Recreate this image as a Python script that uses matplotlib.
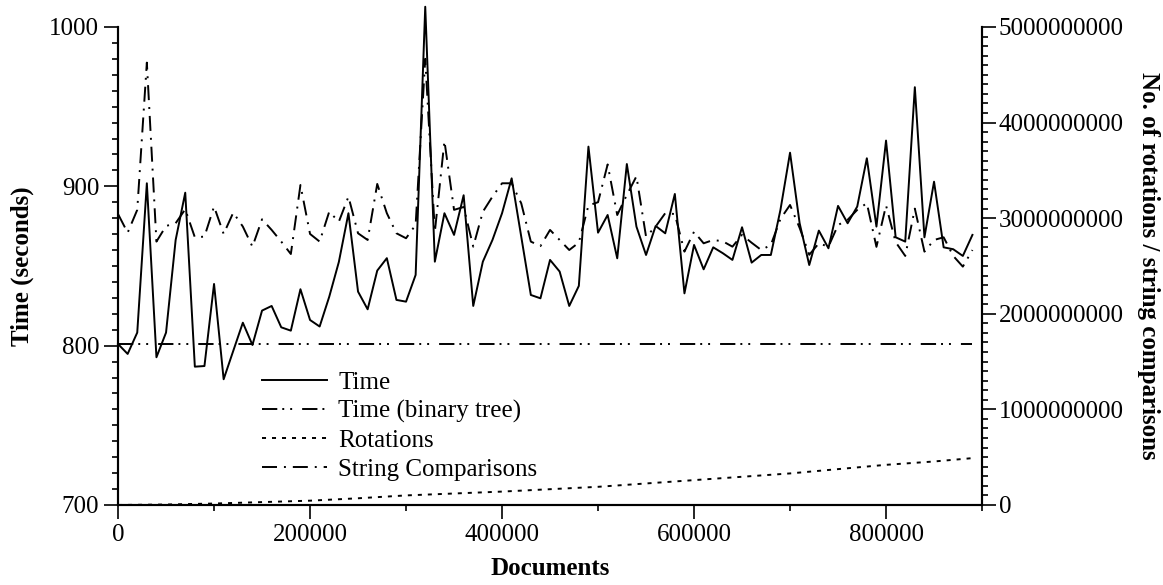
import numpy as np
import matplotlib
matplotlib.use("Agg")
import matplotlib.pyplot as plt
from matplotlib.ticker import MultipleLocator, FuncFormatter

plt.rcParams['font.family'] = ['Liberation Serif', 'DejaVu Serif']
plt.rcParams['font.size'] = 18
plt.rcParams['lines.scale_dashes'] = False

# documents processed (one sample every 10000)
docs = np.arange(0, 900000, 10000)

# time in seconds (splay tree)
time_s = [801.0, 794.8, 808.2, 901.9, 792.7, 808.2, 866.3, 896.0, 786.8, 787.2,
          838.7, 778.9, 796.7, 814.4, 800.4, 822.0, 824.9, 811.5, 809.4, 835.4,
          816.1, 812.0, 830.7, 852.5, 883.1, 833.9, 822.8, 847.1, 854.9, 828.7,
          827.6, 844.4, 1012.7, 852.7, 883.1, 869.5, 894.4, 824.9, 852.7, 866.3,
          883.1, 905.0, 868.4, 831.8, 829.7, 853.8, 846.5, 824.9, 837.5, 924.9,
          870.9, 882.0, 854.8, 914.0, 874.7, 856.9, 875.1, 870.5, 895.2, 832.8,
          863.2, 847.9, 861.7, 858.0, 853.8, 874.3, 852.1, 856.9, 856.9, 885.2,
          921.1, 876.8, 850.6, 872.2, 861.1, 887.7, 876.8, 887.3, 917.6, 874.7,
          928.7, 868.0, 865.3, 962.2, 868.0, 902.9, 861.7, 860.5, 856.3, 869.5]

# time with binary tree (flat)
binary_docs = [0, 890000]
binary_time = [801.0, 801.0]

# string comparisons, in billions
string_cmp = [3.043, 2.848, 3.087, 4.627, 2.755, 2.918, 2.947, 3.093, 2.800, 2.807,
              3.122, 2.835, 3.058, 2.912, 2.702, 2.988, 2.877, 2.755, 2.625, 3.347,
              2.835, 2.755, 3.068, 2.963, 3.225, 2.842, 2.772, 3.358, 3.052, 2.842,
              2.790, 2.930, 4.667, 2.858, 3.808, 3.087, 3.117, 2.702, 3.067, 3.225,
              3.365, 3.365, 3.155, 2.755, 2.708, 2.877, 2.772, 2.667, 2.745, 3.133,
              3.167, 3.562, 3.033, 3.243, 3.438, 2.807, 2.912, 3.052, 3.043, 2.650,
              2.858, 2.737, 2.772, 2.758, 2.702, 2.825, 2.743, 2.667, 2.720, 2.992,
              3.138, 2.898, 2.617, 2.737, 2.702, 2.928, 2.983, 3.087, 3.157, 2.700,
              3.133, 2.750, 2.605, 3.100, 2.650, 2.772, 2.800, 2.605, 2.493, 2.667]

# rotations, in billions
rot_docs = [0, 50000, 100000, 150000, 200000, 250000, 300000, 350000, 400000, 450000,
            500000, 550000, 600000, 650000, 700000, 750000, 800000, 850000, 890000]
rotations = [0.0, 0.005, 0.015, 0.03, 0.045, 0.07, 0.10, 0.12, 0.14, 0.165,
             0.19, 0.225, 0.26, 0.295, 0.33, 0.375, 0.42, 0.455, 0.49]

fig = plt.figure(figsize=(11.63, 5.85), dpi=100)
ax = fig.add_axes([0.1015, 0.1368, 0.7429, 0.8171])
ax2 = ax.twinx()

lw = 1.4
l1, = ax.plot(docs, time_s, color='black', lw=lw, label='Time', clip_on=False)
l2, = ax.plot(binary_docs, binary_time, color='black', lw=lw,
              linestyle=(0, (11, 3.6, 1.4, 4.3, 1.4, 7.2)), label='Time (binary tree)')
l3, = ax2.plot(rot_docs, np.array(rotations) * 1e9, color='black', lw=lw,
               linestyle=(0, (2.9, 4.3)), label='Rotations')
l4, = ax2.plot(docs, np.array(string_cmp) * 1e9, color='black', lw=lw,
               linestyle=(0, (10.8, 5.0, 1.4, 5.0)), label='String Comparisons',
               clip_on=False)

ax.set_xlim(0, 900000)
ax.set_ylim(700, 1000)
ax2.set_ylim(0, 5e9)

for a in (ax, ax2):
    a.spines['top'].set_visible(False)
    for s in a.spines.values():
        s.set_linewidth(1.5)
    a.tick_params(which='major', length=10, width=1.2, direction='out')
    a.tick_params(which='minor', length=4.5, width=1.2, direction='out')
ax2.tick_params(axis='y', which='major', pad=2)

ax.xaxis.set_major_locator(MultipleLocator(200000))
ax.xaxis.set_minor_locator(MultipleLocator(100000))
ax.yaxis.set_major_locator(MultipleLocator(100))
ax.yaxis.set_minor_locator(MultipleLocator(10))
ax2.yaxis.set_major_locator(MultipleLocator(1e9))
ax2.yaxis.set_minor_locator(MultipleLocator(1e8))
ax2.yaxis.set_major_formatter(FuncFormatter(lambda v, p: f"{v:.0f}"))

ax.set_xlabel('Documents', fontweight='bold', labelpad=8)
ax.set_ylabel('Time (seconds)', fontweight='bold', labelpad=11)
ax2.set_ylabel('No. of rotations / string comparisons', fontweight='bold',
               rotation=270, labelpad=26)

ax2.legend(handles=[l1, l2, l3, l4], loc='center left', bbox_to_anchor=(0.1667, 0.165),
           frameon=False, borderpad=0, borderaxespad=0, handlelength=2.6,
           handletextpad=0.45, labelspacing=0.26)

fig.savefig('out.png', dpi=100)
